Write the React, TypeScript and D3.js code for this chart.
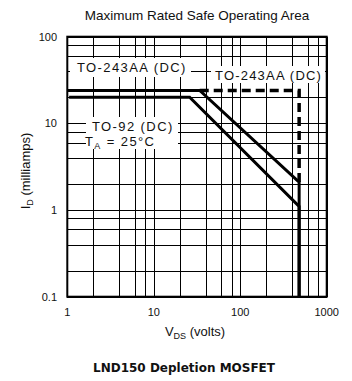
import React from 'react'
import * as d3 from 'd3'

// grid values (log decades with 2,4,6,8 subdivisions)
const xGridValues = [1, 2, 4, 6, 8, 10, 20, 40, 60, 80, 100, 200, 400, 600, 800, 1000]
const yGridValues = [0.1, 0.2, 0.4, 0.6, 0.8, 1, 2, 4, 6, 8, 10, 20, 40, 60, 80, 100]
const xTickLabels = [1, 10, 100, 1000]
const yTickLabels = [0.1, 1, 10, 100]

// safe operating area curves (volts, milliamps)
const to243Volts = [1, 34, 480, 480]
const to243Amps = [24, 24, 2.1, 0.1]
const to92Volts = [1.05, 26, 480, 480]
const to92Amps = [20, 20, 1.1, 0.1]
const to243DashVolts = [34, 480, 480]
const to243DashAmps = [24, 24, 2.1]

const W = 352
const H = 381
const font = '"Liberation Sans", Arial, Helvetica, sans-serif'

export default function App() {
    const x = d3.scaleLog().domain([1, 1000]).range([67.3, 326.7])
    const y = d3.scaleLog().domain([0.1, 100]).range([296.7, 36.7])

    const line = d3.line<[number, number]>()
        .x(d => x(d[0]))
        .y(d => y(d[1]))

    const zip = (a: number[], b: number[]) => a.map((v, i) => [v, b[i]] as [number, number])

    const [x0, x1] = x.range()
    const [y0, y1] = y.range()

    return (
        <svg width={W} height={H} viewBox={`0 0 ${W} ${H}`}
            style={{ position: 'absolute', left: 0, top: 0, background: '#fff' }}>
            <rect x={0} y={0} width={W} height={H} fill="#fff" />

            <text x={197} y={20} textAnchor="middle" fontFamily={font} fontSize={13.5} fill="#111">
                Maximum Rated Safe Operating Area
            </text>

            {/* grid */}
            <g stroke="#000" strokeWidth={1} shapeRendering="crispEdges">
                {xGridValues.map(v => (
                    <line key={'gx' + v} x1={Math.round(x(v)) + 0.5} x2={Math.round(x(v)) + 0.5} y1={y1} y2={y0} />
                ))}
                {yGridValues.map(v => (
                    <line key={'gy' + v} x1={x0} x2={x1} y1={Math.round(y(v)) + 0.5} y2={Math.round(y(v)) + 0.5} />
                ))}
            </g>

            {/* label backgrounds */}
            <g fill="#fff">
                <rect x={70} y={58} width={121} height={19} />
                <rect x={211} y={66} width={114} height={17} />
                <rect x={86} y={117} width={92} height={32} />
            </g>

            {/* curves */}
            <g fill="none" stroke="#000" strokeLinejoin="miter">
                <path d={line(zip(to243DashVolts, to243DashAmps)) || ''} strokeWidth={3.5} strokeDasharray="9 5" />
                <path d={line(zip(to92Volts, to92Amps)) || ''} strokeWidth={3} />
                <path d={line(zip(to243Volts, to243Amps)) || ''} strokeWidth={3} />
            </g>

            {/* border */}
            <rect x={x0} y={y1} width={x1 - x0} height={y0 - y1} fill="none" stroke="#000" strokeWidth={2} />

            {/* labels */}
            <g fontFamily={font} fontSize={13} fill="#111" letterSpacing={1.4}>
                <text x={77} y={72}>TO-243AA (DC)</text>
                <text x={215} y={80} letterSpacing={1.2}>TO-243AA (DC)</text>
                <text x={92} y={131}>TO-92 (DC)</text>
                <text x={85} y={146}>
                    T<tspan fontSize={9} dy={3}>A</tspan><tspan dy={-3}> = 25°C</tspan>
                </text>
            </g>

            {/* tick labels */}
            <g fontFamily={font} fontSize={11} fill="#111">
                {xTickLabels.map(v => (
                    <text key={'tx' + v} x={x(v)} y={316} textAnchor="middle">{v}</text>
                ))}
                {yTickLabels.map(v => (
                    <text key={'ty' + v} x={57} y={y(v) + 4} textAnchor="end">{v}</text>
                ))}
            </g>

            {/* axis titles */}
            <text x={195} y={336} textAnchor="middle" fontFamily={font} fontSize={13} fill="#111">
                V<tspan fontSize={9} dy={3}>DS</tspan><tspan dy={-3}> (volts)</tspan>
            </text>
            <text transform="translate(30,171) rotate(-90)" textAnchor="middle" fontFamily={font} fontSize={13} fill="#111">
                I<tspan fontSize={9} dy={3}>D</tspan><tspan dy={-3}> (milliamps)</tspan>
            </text>

            <text x={184} y={372} textAnchor="middle" fontFamily='"DejaVu Sans", Verdana, sans-serif'
                fontSize={12} fontWeight="bold" fill="#111">
                LND150 Depletion MOSFET
            </text>
        </svg>
    )
}
